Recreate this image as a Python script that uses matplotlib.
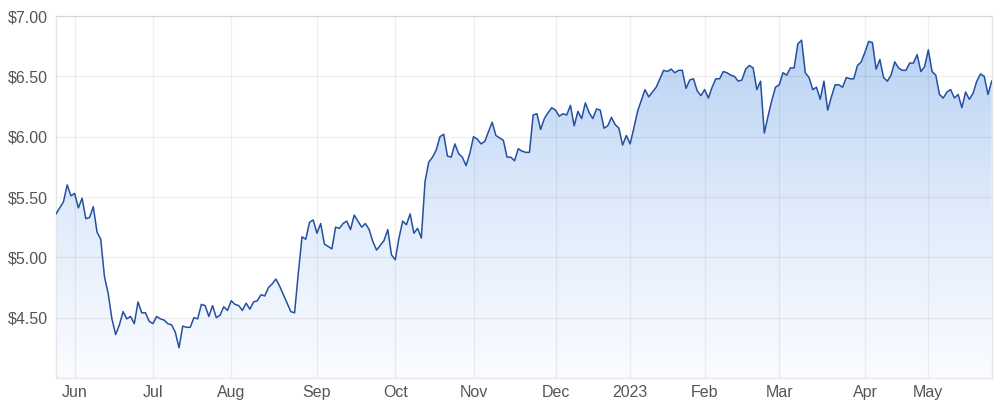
import numpy as np
import matplotlib
matplotlib.use("Agg")
import matplotlib.pyplot as plt
from matplotlib.colors import LinearSegmentedColormap
from matplotlib.patches import Polygon

# daily closing prices (one value per trading day)
prices_2022 = [
    5.36, 5.41, 5.46, 5.60, 5.51, 5.53, 5.41, 5.49, 5.32, 5.33,
    5.42, 5.21, 5.15, 4.84, 4.70, 4.49, 4.36, 4.44, 4.55, 4.49,
    4.51, 4.45, 4.63, 4.54, 4.54, 4.47, 4.45, 4.51, 4.49, 4.48,
    4.45, 4.44, 4.38, 4.25, 4.43, 4.42, 4.42, 4.50, 4.49, 4.61,
    4.60, 4.51, 4.60, 4.50, 4.52, 4.59, 4.56, 4.64, 4.61, 4.60,
    4.56, 4.62, 4.57, 4.63, 4.64, 4.69, 4.68, 4.75, 4.78, 4.82,
    4.76, 4.69, 4.62, 4.55, 4.54, 4.87, 5.17, 5.15, 5.29, 5.31,
    5.20, 5.28, 5.11, 5.09, 5.07, 5.25, 5.24, 5.28, 5.30, 5.23,
    5.35, 5.30, 5.25, 5.28, 5.23, 5.13, 5.06, 5.10, 5.14, 5.23,
    5.02, 4.98, 5.16, 5.30, 5.27, 5.36, 5.20, 5.24, 5.16, 5.63,
    5.79, 5.83, 5.89, 6.00, 6.02, 5.84, 5.83, 5.94, 5.86, 5.83,
    5.76, 5.86, 6.00, 5.98, 5.94, 5.96, 6.04, 6.12, 6.01, 5.99,
    5.97, 5.83, 5.83, 5.80, 5.90, 5.88, 5.87, 5.87, 6.18, 6.19,
    6.06, 6.15, 6.20, 6.24, 6.22, 6.17, 6.19, 6.18, 6.26, 6.09,
    6.21, 6.15, 6.28, 6.20, 6.15, 6.23, 6.22, 6.07, 6.09, 6.16,
    6.10, 6.07, 5.93, 6.01, 5.94,
]
prices_2023 = [
    6.07, 6.21, 6.30, 6.39, 6.33, 6.37, 6.41, 6.48, 6.55, 6.54,
    6.56, 6.53, 6.55, 6.55, 6.40, 6.47, 6.48, 6.38, 6.34, 6.39,
    6.32, 6.41, 6.48, 6.48, 6.54, 6.53, 6.51, 6.50, 6.46, 6.47,
    6.56, 6.59, 6.57, 6.39, 6.46, 6.03, 6.17, 6.30, 6.41, 6.43,
    6.53, 6.51, 6.57, 6.57, 6.77, 6.80, 6.53, 6.49, 6.39, 6.41,
    6.31, 6.46, 6.22, 6.33, 6.43, 6.43, 6.41, 6.49, 6.48, 6.48,
    6.59, 6.62, 6.70, 6.79, 6.78, 6.56, 6.64, 6.49, 6.46, 6.51,
    6.62, 6.57, 6.55, 6.55, 6.61, 6.61, 6.68, 6.54, 6.58, 6.72,
    6.54, 6.51, 6.35, 6.32, 6.37, 6.39, 6.32, 6.35, 6.24, 6.37,
    6.31, 6.36, 6.46, 6.52, 6.50, 6.35, 6.46,
]
prices = prices_2022 + prices_2023

month_labels = ['Jun', 'Jul', 'Aug', 'Sep', 'Oct', 'Nov', 'Dec',
                '2023', 'Feb', 'Mar', 'Apr', 'May']
month_index = [5, 26, 47, 70, 91, 112, 134, 154, 174, 194, 217, 234]

y_ticks = [4.5, 5.0, 5.5, 6.0, 6.5, 7.0]

x = np.arange(len(prices))
y = np.array(prices)

plt.rcParams['font.family'] = ['Liberation Sans', 'DejaVu Sans']

fig = plt.figure(figsize=(10, 4.15), dpi=100)
ax = fig.add_axes([0.056, 0.0892, 0.9357, 0.8722])

ymin, ymax = 4.0, 7.0
ax.set_xlim(0, len(prices) - 1)
ax.set_ylim(ymin, ymax)

# gradient fill under the line
cmap = LinearSegmentedColormap.from_list('fade', ['#fbfcff', '#e0ebfb', '#b9d2f3'])
grad = np.linspace(0, 1, 256).reshape(-1, 1)
img = ax.imshow(grad, cmap=cmap, aspect='auto', origin='lower',
                extent=[0, len(prices) - 1, ymin, y.max()], zorder=1)
verts = np.vstack([[x[0], ymin], np.column_stack([x, y]), [x[-1], ymin]])
clip = Polygon(verts, closed=True, facecolor='none', edgecolor='none')
ax.add_patch(clip)
img.set_clip_path(clip)

ax.plot(x, y, color='#2550a0', linewidth=1.1, zorder=3)

ax.set_xticks(month_index)
ax.set_xticklabels(month_labels)
ax.set_yticks(y_ticks)
ax.set_yticklabels(['${:.2f}'.format(v) for v in y_ticks])

ax.set_axisbelow(False)
ax.grid(True, color='#000000', alpha=0.06, linewidth=1.0)
ax.tick_params(length=0, labelsize=11.5, labelcolor='#555555')
ax.tick_params(axis='x', pad=5)
ax.tick_params(axis='y', pad=6)
for s in ax.spines.values():
    s.set_color('#e6e6e6')
    s.set_linewidth(1.0)

fig.savefig('out.png', dpi=100)
